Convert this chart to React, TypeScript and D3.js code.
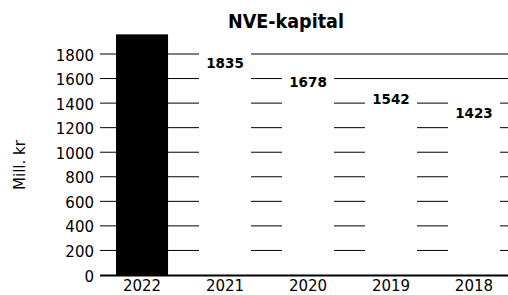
import React, { useEffect, useRef } from 'react';
import * as d3 from 'd3';

const years = ['2022', '2021', '2020', '2019', '2018'];
const values = [1960, 1835, 1678, 1542, 1423];
const yTicks = [0, 200, 400, 600, 800, 1000, 1200, 1400, 1600, 1800];
const barColors = ['#000000', '#ffffff', '#ffffff', '#ffffff', '#ffffff'];

const W = 508;
const H = 295;

const App: React.FC = () => {
  const svgRef = useRef<SVGSVGElement | null>(null);

  useEffect(() => {
    if (!svgRef.current) return;
    const svg = d3.select(svgRef.current);
    svg.selectAll('*').remove();

    const font = "'DejaVu Sans', Verdana, sans-serif";

    const x = d3
      .scaleBand<string>()
      .domain(years)
      .range([100, 516])
      .paddingInner(0.373)
      .paddingOuter(0.193);

    const y = d3.scaleLinear().domain([0, 1800]).range([275, 54]);

    // gridlines
    svg
      .append('g')
      .selectAll('line')
      .data(yTicks.filter((t) => t > 0))
      .enter()
      .append('line')
      .attr('x1', 100)
      .attr('x2', W)
      .attr('y1', (d) => y(d))
      .attr('y2', (d) => y(d))
      .attr('stroke', '#000')
      .attr('stroke-width', 1);

    // bars
    svg
      .append('g')
      .selectAll('rect')
      .data(values)
      .enter()
      .append('rect')
      .attr('x', (_, i) => x(years[i]) as number)
      .attr('width', x.bandwidth())
      .attr('y', (d) => y(d))
      .attr('height', (d) => y(0) - y(d))
      .attr('fill', (_, i) => barColors[i]);

    // value labels (the first is hidden in the black bar)
    svg
      .append('g')
      .selectAll('text')
      .data(values)
      .enter()
      .append('text')
      .attr('x', (_, i) => (x(years[i]) as number) + x.bandwidth() / 2)
      .attr('y', (d) => y(d) + 18)
      .attr('text-anchor', 'middle')
      .style('font-family', font)
      .style('font-weight', 'bold')
      .style('font-size', '13.5px')
      .attr('fill', '#000')
      .text((d, i) => (i === 0 ? '' : String(d)));

    // zero axis
    svg
      .append('line')
      .attr('x1', 100)
      .attr('x2', W)
      .attr('y1', y(0) + 0.5)
      .attr('y2', y(0) + 0.5)
      .attr('stroke', '#000')
      .attr('stroke-width', 2);

    // y tick labels
    svg
      .append('g')
      .selectAll('text')
      .data(yTicks)
      .enter()
      .append('text')
      .attr('x', 94)
      .attr('y', (d) => y(d) + 6.5)
      .attr('text-anchor', 'end')
      .style('font-family', font)
      .style('font-size', '15px')
      .text((d) => String(d));

    // x tick labels
    svg
      .append('g')
      .selectAll('text')
      .data(years)
      .enter()
      .append('text')
      .attr('x', (d) => (x(d) as number) + x.bandwidth() / 2)
      .attr('y', 291)
      .attr('text-anchor', 'middle')
      .style('font-family', font)
      .style('font-size', '15px')
      .text((d) => d);

    // title
    svg
      .append('text')
      .attr('x', 286)
      .attr('y', 28)
      .attr('text-anchor', 'middle')
      .style('font-family', "'DejaVu Sans Condensed', 'DejaVu Sans', sans-serif")
      .style('font-weight', 'bold')
      .style('font-size', '19.5px')
      .text('NVE-kapital');

    // y axis label
    svg
      .append('text')
      .attr('transform', `translate(25, 165) rotate(-90)`)
      .attr('text-anchor', 'middle')
      .style('font-family', font)
      .style('font-size', '15px')
      .text('Mill. kr');
  }, []);

  return (
    <svg
      ref={svgRef}
      width={W}
      height={H}
      style={{ position: 'absolute', left: 0, top: 0, background: '#fff' }}
    ></svg>
  );
};

export default App;
